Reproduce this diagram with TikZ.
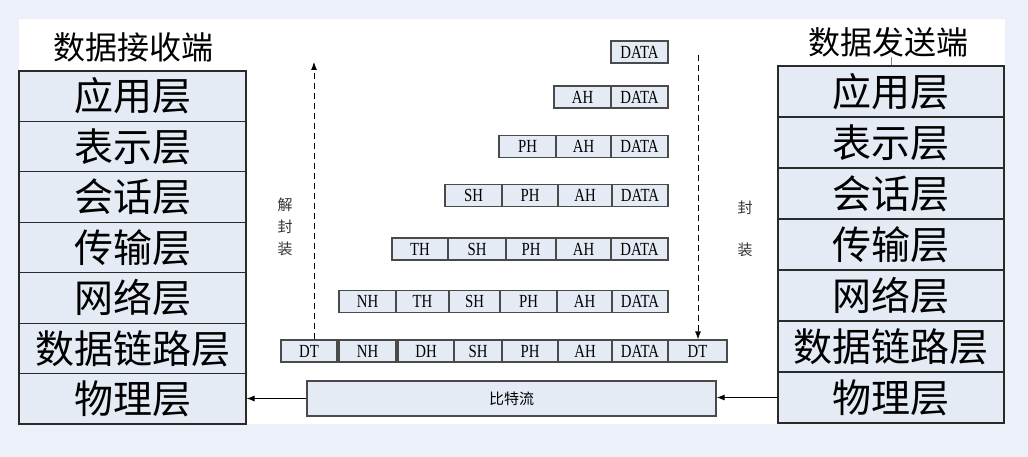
\documentclass[tikz,border=0pt]{standalone}
\usepackage{fontspec}
\setmainfont{Liberation Serif}
\newfontfamily\cjk{Noto Sans CJK SC}
\newfontfamily\pktfont[FakeStretch=0.8]{Liberation Serif}
\usetikzlibrary{arrows.meta}
\definecolor{bgc}{HTML}{ECF0F8}
\definecolor{boxc}{HTML}{E5EBF5}
\definecolor{linec}{HTML}{2A2A2A}
\definecolor{pktline}{HTML}{4A4A4A}
\tikzset{
  layer/.style={draw=linec, line width=1.1pt, fill=boxc, inner sep=0pt, minimum width=#1,
    font=\cjk\fontsize{39}{42}\selectfont},
  pkt/.style={draw=pktline, line width=1.3pt, fill=boxc, inner sep=0pt, minimum height=22pt,
    font=\pktfont\fontsize{18.5}{19}\selectfont},
  ttl/.style={font=\cjk\fontsize{32}{36}\selectfont, inner sep=0pt},
  small/.style={font=\cjk\fontsize{15}{22}\selectfont, inner sep=0pt, align=center, text=black!80},
  arr/.style={line width=0.9pt, -{Latex[length=8pt,width=6pt]}},
  dasharr/.style={line width=0.9pt, dashed, dash pattern=on 6pt off 4pt, -{Latex[length=8pt,width=6pt]}}
}
\newcommand\pcell[5]{\node[pkt, minimum width={(#3-#2)*1pt}] (#1) at ({(#2+#3)/2},#4) {#5};}
\begin{document}
\begin{tikzpicture}[x=1pt,y=-1pt]
\fill[bgc] (0,0) rectangle (1028,457);
\fill[white] (19,19) rectangle (1005,424);
% receiving side
\node[ttl] (Lt) at (133,47) {数据接收端};
\node[layer=227pt, minimum height=50.43pt] (L1) at (132.5,96.2) {应用层};
\node[layer=227pt, minimum height=50.43pt] (L2) at (132.5,146.6) {表示层};
\node[layer=227pt, minimum height=50.43pt] (L3) at (132.5,197.1) {会话层};
\node[layer=227pt, minimum height=50.43pt] (L4) at (132.5,247.5) {传输层};
\node[layer=227pt, minimum height=50.43pt] (L5) at (132.5,297.9) {网络层};
\node[layer=227pt, minimum height=50.43pt] (L6) at (132.5,348.4) {数据链路层};
\node[layer=227pt, minimum height=50.43pt] (L7) at (132.5,398.8) {物理层};
% sending side
\node[ttl] (Rt) at (888,42) {数据发送端};
\node[layer=226pt, minimum height=51pt] (R1) at (891,91.5) {应用层};
\node[layer=226pt, minimum height=51pt] (R2) at (891,142.5) {表示层};
\node[layer=226pt, minimum height=51pt] (R3) at (891,193.5) {会话层};
\node[layer=226pt, minimum height=51pt] (R4) at (891,244.5) {传输层};
\node[layer=226pt, minimum height=51pt] (R5) at (891,295.5) {网络层};
\node[layer=226pt, minimum height=51pt] (R6) at (891,346.5) {数据链路层};
\node[layer=226pt, minimum height=51pt] (R7) at (891,397.5) {物理层};
\draw[gray, line width=0.6pt] (R1.north) -- (R1.north |- Rt.south);
% packets
\pcell{p11}{611}{668}{52}{DATA}
\pcell{p21}{554}{611}{97}{AH}
\pcell{p22}{611}{668}{97}{DATA}
\pcell{p31}{499}{556}{146.5}{PH}
\pcell{p32}{556}{611}{146.5}{AH}
\pcell{p33}{611}{668}{146.5}{DATA}
\pcell{p41}{445}{502}{195.5}{SH}
\pcell{p42}{502}{558}{195.5}{PH}
\pcell{p43}{558}{612}{195.5}{AH}
\pcell{p44}{612}{668}{195.5}{DATA}
\pcell{p51}{392}{448}{249}{TH}
\pcell{p52}{448}{506}{249}{SH}
\pcell{p53}{506}{556}{249}{PH}
\pcell{p54}{556}{611}{249}{AH}
\pcell{p55}{611}{668}{249}{DATA}
\pcell{p61}{339}{396}{301.5}{NH}
\pcell{p62}{396}{449}{301.5}{TH}
\pcell{p63}{449}{500}{301.5}{SH}
\pcell{p64}{500}{557}{301.5}{PH}
\pcell{p65}{557}{612}{301.5}{AH}
\pcell{p66}{612}{668}{301.5}{DATA}
\pcell{p71}{281}{337}{351}{DT}
\pcell{p72}{339}{396}{351}{NH}
\pcell{p73}{398}{454}{351}{DH}
\pcell{p74}{454}{502}{351}{SH}
\pcell{p75}{502}{558}{351}{PH}
\pcell{p76}{558}{612}{351}{AH}
\pcell{p77}{612}{668}{351}{DATA}
\pcell{p78}{668}{727}{351}{DT}
% bit stream
\node[draw=pktline, line width=1.3pt, fill=boxc, minimum width=409pt, minimum height=35pt,
  inner sep=0pt, font=\cjk\fontsize{15}{18}\selectfont] (bits) at (511.5,398.5) {比特流};
\draw[arr] (bits.west) -- (bits.west -| L7.east);
\draw[arr] (R7.west) -- (R7.west -| bits.east);
% dashed arrows
\coordinate (lt) at (314,62);
\coordinate (rt) at (698,55);
\draw[dasharr] ([xshift=5pt]p71.north) -- (lt);
\draw[dasharr] (rt) -- (p78.north -| rt);
\node[small] (dec) at (285,227) {解\\封\\装};
\node[small] (enc) at (745,229) {封\\[20pt]装};
\end{tikzpicture}
\end{document}
